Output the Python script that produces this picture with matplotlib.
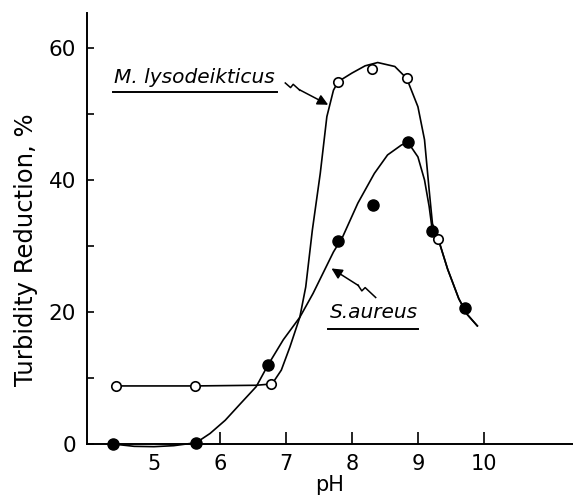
import matplotlib
matplotlib.use("Agg")
import matplotlib.pyplot as plt

# measured points
m_ph = [4.43, 5.62, 6.78, 7.79, 8.31, 8.83, 9.31]
m_val = [8.8, 8.8, 9.1, 54.9, 56.8, 55.4, 31.0]

s_ph = [4.38, 5.64, 6.73, 7.79, 8.32, 8.85, 9.22, 9.71]
s_val = [0.0, 0.2, 12.0, 30.7, 36.2, 45.7, 32.2, 20.6]

# hand-drawn fitted curves
m_curve_ph = [4.43, 5.62, 6.55, 6.78, 6.83, 6.93, 7.06, 7.21, 7.30, 7.40, 7.52, 7.62,
              7.72, 7.79, 8.00, 8.20, 8.39, 8.65, 8.83, 9.00, 9.10, 9.17, 9.22, 9.31,
              9.45, 9.62, 9.75, 9.90]
m_curve_val = [8.8, 8.8, 8.9, 9.1, 9.7, 11.2, 14.7, 19.2, 23.8, 32.4, 41.0, 49.6,
               53.6, 54.9, 56.2, 57.3, 57.8, 57.2, 55.4, 51.1, 46.1, 38.5, 33.4, 31.0,
               26.5, 22.0, 19.6, 17.9]

s_curve_ph = [4.38, 4.70, 5.00, 5.30, 5.64, 5.85, 6.08, 6.30, 6.55, 6.73, 6.96, 7.21,
              7.41, 7.72, 7.86, 8.09, 8.34, 8.54, 8.75, 8.85, 9.00, 9.10, 9.17, 9.22,
              9.31, 9.45, 9.62, 9.75, 9.90]
s_curve_val = [0.0, -0.35, -0.4, -0.25, 0.2, 1.6, 3.6, 6.0, 8.7, 12.0, 15.8, 19.2,
               22.8, 29.1, 31.4, 36.5, 41.0, 43.8, 45.3, 45.7, 43.5, 40.0, 36.0, 32.2,
               31.0, 26.5, 22.0, 19.6, 17.9]

x_ticks = [5, 6, 7, 8, 9, 10]
y_ticks = [0, 10, 20, 30, 40, 50, 60]
y_labels = ['0', '', '20', '', '40', '', '60']

fig = plt.figure(figsize=(5.73, 4.97), dpi=100)
ax = fig.add_axes([0.1518, 0.1066, 0.8482, 0.8672])
ax.set_xlim(3.985, 11.35)
ax.set_ylim(0, 65.3)

ax.plot(m_curve_ph, m_curve_val, color='black', lw=1.2, clip_on=False, zorder=2)
ax.plot(s_curve_ph, s_curve_val, color='black', lw=1.2, clip_on=False, zorder=2)
ax.plot(m_ph, m_val, 'o', ms=6.8, mfc='white', mec='black', mew=1.2, clip_on=False, zorder=3)
ax.plot(s_ph, s_val, 'o', ms=8, mfc='black', mec='black', clip_on=False, zorder=4)

# labels with underline and lightning arrows
ax.text(5.61, 55.6, 'M. lysodeikticus', style='italic', fontsize=14.5,
        ha='center', va='center')
ax.plot([4.38, 6.86], [53.3, 53.3], color='black', lw=1.4)
ax.plot([6.99, 7.07, 7.11, 7.21], [54.7, 54.0, 54.5, 53.6], color='black', lw=1.1)
ax.annotate('', xy=(7.64, 51.4), xytext=(7.20, 53.7),
            arrowprops=dict(arrowstyle='-|>', color='black', lw=1.1,
                            mutation_scale=16, shrinkA=0, shrinkB=0))

ax.text(8.33, 19.9, 'S.aureus', style='italic', fontsize=14.5,
        ha='center', va='center')
ax.plot([7.64, 9.0], [17.5, 17.5], color='black', lw=1.4)
ax.plot([8.36, 8.20, 8.15, 8.09], [22.2, 23.7, 23.2, 24.1], color='black', lw=1.1)
ax.annotate('', xy=(7.69, 26.6), xytext=(8.10, 24.0),
            arrowprops=dict(arrowstyle='-|>', color='black', lw=1.1,
                            mutation_scale=16, shrinkA=0, shrinkB=0))

for side in ['top', 'right']:
    ax.spines[side].set_visible(False)
for side in ['left', 'bottom']:
    ax.spines[side].set_linewidth(1.4)

ax.set_xticks(x_ticks)
ax.set_xticklabels([str(t) for t in x_ticks])
ax.set_yticks(y_ticks)
ax.set_yticklabels(y_labels)
ax.tick_params(axis='x', direction='in', length=9, width=1.2, labelsize=15, pad=7)
ax.tick_params(axis='y', direction='in', length=5, width=1.2, labelsize=15.5, pad=8)
ax.xaxis.get_major_ticks()[0].tick1line.set_visible(False)

ax.set_xlabel('pH', fontsize=15, labelpad=1)
ax.set_ylabel('Turbidity Reduction, %', fontsize=17.5)
ax.yaxis.set_label_coords(-0.10, 0.45)

fig.savefig('out.png', dpi=100)
